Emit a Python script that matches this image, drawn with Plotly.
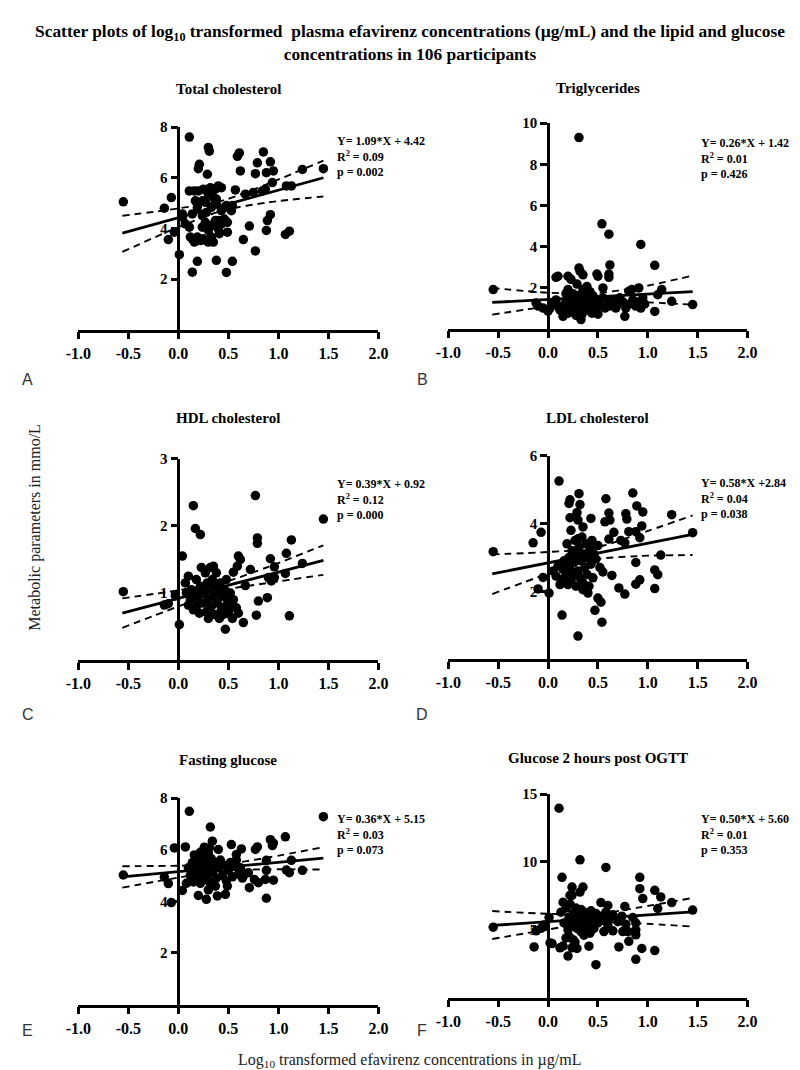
import plotly.graph_objects as go

W, H = 800, 1070

# ---------------- data ----------------
X_TICKS = [-1.0, -0.5, 0.0, 0.5, 1.0, 1.5, 2.0]
X_TICKTEXT = ["-1.0", "-0.5", "0.0", "0.5", "1.0", "1.5", "2.0"]

TITLES = ["Total cholesterol", "Triglycerides", "HDL cholesterol",
          "LDL cholesterol", "Fasting glucose", "Glucose 2 hours post OGTT"]
PANEL_LETTERS = ["A", "B", "C", "D", "E", "F"]
Y_MAX = [8, 10, 3, 6, 8, 15]
Y_TICKS = [[2, 4, 6, 8], [2, 4, 6, 8, 10], [1, 2, 3], [2, 4, 6], [2, 4, 6, 8], [5, 10, 15]]
SLOPES = [1.09, 0.26, 0.39, 0.58, 0.36, 0.50]
INTERCEPTS = [4.42, 1.42, 0.92, 2.84, 5.15, 5.60]
R2_TEXT = ["0.09", "0.01", "0.12", "0.04", "0.03", "0.01"]
P_TEXT = ["0.002", "0.426", "0.000", "0.038", "0.073", "0.353"]
EQ_TEXT = ["Y= 1.09*X + 4.42", "Y= 0.26*X + 1.42", "Y= 0.39*X + 0.92",
           "Y= 0.58*X +2.84", "Y= 0.36*X + 5.15", "Y= 0.50*X + 5.60"]

FIT_X = [-0.56, 1.45]
BAND_X = [-0.56, 0.0, 0.45, 0.9, 1.45]
BAND_UPPER = [
    [4.50, 4.79, 5.11, 5.77, 6.68],
    [1.98, 1.75, 1.72, 2.00, 2.58],
    [0.92, 1.04, 1.16, 1.39, 1.71],
    [3.09, 3.16, 3.27, 3.68, 4.24],
    [5.36, 5.38, 5.43, 5.70, 6.10],
    [6.38, 6.18, 6.13, 6.63, 7.35],
]
BAND_LOWER = [
    [3.07, 4.05, 4.71, 5.03, 5.26],
    [0.68, 1.09, 1.36, 1.30, 1.17],
    [0.48, 0.80, 1.04, 1.15, 1.27],
    [1.92, 2.52, 2.93, 3.04, 3.07],
    [4.53, 4.92, 5.19, 5.24, 5.23],
    [4.32, 5.02, 5.53, 5.47, 5.24],
]

TC_POINTS = [
    (-0.55, 5.05), (-0.07, 5.22), (-0.14, 4.80), (-0.10, 3.56), (-0.04, 3.85), (0.01, 2.96),
    (0.11, 7.61), (0.04, 4.57), (0.14, 2.27), (0.19, 2.70), (0.21, 6.53), (0.20, 6.36),
    (0.30, 7.20), (0.31, 7.05), (0.29, 6.14), (0.38, 2.74), (0.48, 2.26), (0.54, 2.70),
    (0.57, 5.52), (0.61, 6.98), (0.59, 6.85), (0.62, 6.27), (0.65, 3.56), (0.71, 4.09),
    (0.77, 3.11), (0.79, 6.59), (0.77, 6.16), (0.85, 7.02), (0.88, 6.20), (0.92, 6.63),
    (0.95, 6.27), (0.94, 5.81), (0.88, 3.92), (0.89, 4.31), (0.92, 4.54), (1.07, 3.76),
    (1.11, 3.89), (1.08, 5.68), (1.13, 5.68), (1.24, 6.33), (1.45, 6.36), (0.67, 5.35),
    (0.75, 5.42), (0.84, 5.48), (0.87, 5.55),
    (0.04, 4.44), (0.07, 4.18), (0.11, 4.05), (0.12, 3.66), (0.16, 3.46), (0.19, 3.66),
    (0.22, 3.52), (0.25, 3.59), (0.30, 3.46), (0.33, 3.66), (0.24, 4.05), (0.27, 4.24),
    (0.30, 3.92), (0.33, 4.11), (0.37, 4.31), (0.40, 3.98), (0.43, 4.18), (0.46, 4.37),
    (0.49, 4.24), (0.49, 3.85), (0.53, 4.70), (0.54, 4.90), (0.48, 4.90), (0.43, 4.70),
    (0.38, 4.96), (0.33, 4.83), (0.28, 4.63), (0.24, 4.50), (0.19, 4.83), (0.17, 5.09),
    (0.20, 5.48), (0.25, 5.55), (0.30, 5.35), (0.32, 5.61), (0.37, 5.55), (0.40, 5.68),
    (0.43, 5.61), (0.35, 5.22), (0.38, 5.16), (0.27, 5.03), (0.14, 4.57), (0.11, 5.48),
    (0.16, 5.48), (0.14, 3.59), (0.28, 3.52), (0.40, 4.31), (0.41, 3.79), (0.35, 3.46),
    (0.24, 5.09), (0.46, 4.83),
]

TG_POINTS = [
    (-0.55, 1.90), (0.31, 9.30), (0.54, 5.10), (0.61, 4.60), (0.93, 4.10), (1.07, 3.08),
    (0.62, 3.10), (0.61, 2.66), (0.61, 2.50), (0.49, 2.66), (0.50, 2.55), (0.31, 2.95),
    (0.32, 2.80), (0.35, 2.62), (0.10, 2.55), (0.08, 2.50), (0.20, 2.55), (0.23, 2.40),
    (0.39, 2.05), (0.29, 2.17), (0.55, 1.98), (0.91, 1.98), (0.81, 1.82), (0.84, 1.90),
    (1.14, 1.90), (1.10, 1.65), (1.24, 1.33), (1.45, 1.17), (1.07, 0.84), (0.77, 0.60),
    (0.33, 0.44), (0.15, 0.60),
    (-0.12, 1.25), (-0.10, 1.10), (-0.05, 1.00), (0.00, 0.85), (0.02, 1.00), (0.05, 1.20),
    (0.08, 1.40), (0.12, 0.90), (0.15, 1.10), (0.18, 1.30), (0.20, 0.75), (0.22, 1.00),
    (0.22, 1.50), (0.25, 1.20), (0.26, 0.80), (0.28, 1.40), (0.30, 1.00), (0.30, 1.60),
    (0.32, 1.25), (0.34, 0.70), (0.35, 1.10), (0.37, 1.50), (0.38, 0.90), (0.40, 1.30),
    (0.42, 1.00), (0.44, 0.75), (0.45, 1.60), (0.46, 1.20), (0.48, 0.85), (0.50, 1.40),
    (0.52, 1.10), (0.55, 1.50), (0.57, 1.00), (0.60, 1.30), (0.62, 1.10), (0.65, 1.40),
    (0.68, 1.00), (0.70, 1.20), (0.72, 1.50), (0.75, 1.30), (0.78, 1.00), (0.82, 1.20),
    (0.85, 1.40), (0.88, 1.10), (0.90, 1.30), (0.93, 1.00), (0.95, 1.50), (0.97, 1.20),
    (0.25, 1.70), (0.42, 1.80), (0.50, 0.70), (0.10, 1.10), (0.28, 0.65), (0.35, 1.90),
    (0.20, 1.90), (0.18, 1.70),
]

HDL_POINTS = [
    (-0.55, 1.02), (-0.14, 0.82), (-0.10, 0.84), (-0.03, 0.96), (0.01, 0.53), (0.04, 1.55),
    (0.15, 2.30), (0.17, 1.96), (0.22, 1.87), (0.77, 2.45), (0.79, 1.82), (0.79, 1.74),
    (1.45, 2.10), (1.13, 1.79), (1.08, 1.59), (1.24, 1.44), (0.92, 1.51), (0.96, 1.39),
    (1.07, 1.29), (0.90, 1.23), (0.93, 1.18), (0.96, 1.23), (0.89, 0.93), (0.80, 0.88),
    (0.78, 0.67), (1.11, 0.66), (0.65, 0.56), (0.47, 0.46), (0.60, 1.55), (0.62, 1.50),
    (0.59, 1.40), (0.72, 1.35), (0.67, 1.11), (0.55, 1.31), (0.60, 0.70), (0.54, 0.62),
    (0.07, 1.15), (0.10, 1.25), (0.12, 0.90), (0.13, 1.05), (0.15, 0.75), (0.18, 1.20),
    (0.20, 0.95), (0.21, 0.70), (0.22, 1.10), (0.23, 1.38), (0.25, 0.85), (0.26, 1.00),
    (0.27, 1.30), (0.28, 0.72), (0.29, 1.15), (0.30, 0.90), (0.31, 1.05), (0.32, 1.38),
    (0.33, 0.80), (0.34, 1.20), (0.35, 0.95), (0.36, 0.68), (0.37, 1.10), (0.38, 1.30),
    (0.39, 0.85), (0.40, 1.00), (0.41, 0.62), (0.42, 1.15), (0.43, 0.75), (0.44, 0.95),
    (0.46, 1.05), (0.47, 0.80), (0.48, 1.20), (0.49, 0.90), (0.50, 0.70), (0.52, 1.00),
    (0.53, 0.78), (0.24, 1.02), (0.19, 0.82), (0.16, 1.00), (0.10, 0.82), (0.08, 1.00),
    (0.45, 0.68), (0.35, 1.40), (0.30, 0.62), (0.55, 0.90), (0.58, 0.78),
]

LDL_POINTS = [
    (-0.55, 3.17), (-0.15, 3.43), (-0.07, 3.74), (-0.10, 2.07), (-0.05, 2.41), (0.01, 1.95),
    (0.11, 5.25), (0.14, 1.30), (0.30, 0.68), (0.54, 1.09), (0.47, 1.44), (0.53, 1.68),
    (0.50, 1.80), (0.40, 1.95), (0.31, 4.88), (0.22, 4.70), (0.21, 4.59), (0.32, 4.56),
    (0.29, 4.32), (0.30, 4.10), (0.22, 4.17), (0.23, 3.80), (0.35, 3.90), (0.43, 4.15),
    (0.58, 4.73), (0.61, 4.31), (0.62, 4.10), (0.57, 4.05), (0.66, 3.74), (0.61, 3.54),
    (0.73, 3.50), (0.77, 3.43), (0.78, 4.29), (0.79, 4.13), (0.81, 3.76), (0.85, 4.90),
    (0.89, 4.52), (0.95, 4.34), (0.94, 3.93), (0.92, 3.58), (0.88, 3.76), (1.24, 4.26),
    (1.45, 3.73), (1.13, 3.07), (0.88, 2.85), (1.07, 2.63), (1.10, 2.49), (1.07, 2.08),
    (0.92, 2.34), (0.88, 2.21), (0.71, 2.10), (0.77, 1.92), (0.64, 2.47), (0.55, 2.57),
    (0.05, 2.60), (0.08, 2.45), (0.10, 2.75), (0.12, 2.20), (0.14, 2.35), (0.16, 2.90),
    (0.18, 2.50), (0.19, 3.40), (0.20, 2.20), (0.21, 3.00), (0.22, 2.65), (0.23, 2.30),
    (0.24, 3.20), (0.25, 2.45), (0.26, 2.85), (0.27, 3.50), (0.28, 2.15), (0.29, 3.05),
    (0.30, 2.60), (0.31, 3.30), (0.32, 2.40), (0.33, 2.90), (0.34, 3.60), (0.35, 2.25),
    (0.36, 3.10), (0.37, 2.70), (0.38, 3.40), (0.39, 2.50), (0.40, 3.00), (0.41, 2.15),
    (0.42, 3.25), (0.43, 2.80), (0.44, 3.50), (0.45, 2.40), (0.46, 3.10), (0.48, 2.95),
    (0.50, 3.35), (0.52, 2.70), (0.30, 3.55), (0.20, 2.75), (0.15, 2.65), (0.35, 2.05),
]

FG_POINTS = [
    (-0.55, 5.02), (-0.14, 4.94), (-0.10, 4.69), (-0.07, 3.95), (-0.04, 6.07), (0.04, 4.42),
    (0.07, 6.11), (0.11, 7.49), (0.20, 4.23), (0.30, 4.44), (0.32, 6.88), (0.34, 6.33),
    (0.31, 6.07), (0.40, 6.01), (0.53, 6.20), (0.63, 6.03), (0.58, 5.81), (0.79, 6.11),
    (0.77, 6.01), (0.92, 6.39), (0.95, 6.26), (0.94, 6.16), (1.07, 6.50), (1.13, 5.59),
    (1.08, 5.21), (1.11, 5.11), (1.24, 5.20), (1.45, 7.28), (0.88, 5.59), (0.88, 5.20),
    (0.87, 4.85), (0.95, 4.82), (0.88, 4.12), (0.71, 4.53), (0.76, 4.85), (0.80, 4.72),
    (0.70, 5.11), (0.65, 4.98), (0.28, 4.08), (0.39, 4.21), (0.47, 4.27), (0.49, 4.59),
    (0.37, 4.59),
    (0.12, 5.00), (0.14, 5.50), (0.15, 4.75), (0.16, 5.80), (0.17, 5.20), (0.18, 4.90),
    (0.19, 5.60), (0.20, 5.35), (0.21, 5.00), (0.22, 5.90), (0.22, 4.70), (0.23, 5.45),
    (0.24, 5.15), (0.25, 5.70), (0.26, 4.85), (0.27, 5.30), (0.28, 5.55), (0.29, 5.05),
    (0.30, 5.85), (0.31, 4.75), (0.32, 5.40), (0.33, 5.65), (0.34, 5.10), (0.36, 5.50),
    (0.38, 4.90), (0.40, 5.30), (0.42, 5.60), (0.44, 5.00), (0.46, 5.40), (0.48, 4.80),
    (0.50, 5.20), (0.52, 5.50), (0.54, 4.95), (0.56, 5.35), (0.58, 5.60), (0.60, 5.05),
    (0.62, 5.30), (0.64, 4.90), (0.26, 6.10), (0.20, 5.10), (0.10, 5.30), (0.08, 4.70),
]

OGTT_POINTS = [
    (-0.55, 5.19), (-0.14, 3.74), (-0.12, 4.92), (-0.07, 5.11), (-0.04, 5.36), (0.02, 4.03),
    (0.04, 3.98), (0.11, 13.96), (0.14, 8.87), (0.20, 3.06), (0.32, 10.16), (0.48, 2.43),
    (0.58, 9.60), (0.88, 2.82), (0.94, 3.62), (1.07, 3.47), (0.71, 3.74), (0.81, 4.15),
    (0.41, 3.79), (0.92, 8.87), (0.92, 8.03), (0.95, 7.30), (1.07, 7.91), (1.13, 7.42),
    (1.10, 6.57), (1.24, 7.01), (1.45, 6.45), (0.77, 6.72), (0.53, 7.01), (0.60, 6.79),
    (0.24, 8.15), (0.24, 7.54), (0.35, 8.15), (0.32, 7.78), (0.15, 7.03), (0.22, 7.54),
    (0.12, 3.67), (0.15, 3.80), (0.24, 3.67), (0.29, 3.62), (0.21, 4.52), (0.25, 4.27),
    (0.33, 4.87), (0.42, 4.75), (0.65, 4.92), (0.75, 4.87), (0.88, 5.00), (0.88, 4.63),
    (0.80, 4.87), (0.56, 4.87),
    (0.13, 6.30), (0.16, 5.50), (0.18, 6.60), (0.20, 5.00), (0.21, 5.90), (0.22, 6.90),
    (0.23, 5.30), (0.25, 6.20), (0.26, 5.60), (0.28, 6.60), (0.29, 5.10), (0.30, 6.00),
    (0.32, 5.40), (0.33, 6.50), (0.35, 5.80), (0.36, 6.30), (0.38, 5.20), (0.40, 6.10),
    (0.41, 5.60), (0.43, 6.40), (0.45, 5.90), (0.46, 5.10), (0.48, 6.20), (0.50, 5.50),
    (0.52, 6.00), (0.55, 5.70), (0.58, 6.30), (0.60, 5.30), (0.62, 5.90), (0.65, 6.10),
    (0.70, 5.60), (0.74, 6.00), (0.78, 5.40), (0.85, 5.90), (0.88, 5.50), (0.18, 4.40),
    (0.27, 4.10), (0.36, 4.60), (0.01, 5.90),
]

PANEL_POINTS = [TC_POINTS, TG_POINTS, HDL_POINTS, LDL_POINTS, FG_POINTS, OGTT_POINTS]

# ---------------- layout geometry (pixels; top, bottom) ----------------
COL_X = [(59, 368), (440, 748)]
ROW_Y = [(112, 316), (108, 315), (446, 649), (443, 648), (788, 996), (784, 989)]
TITLE_Y = [74, 73, 405, 405, 750, 748]
EQ_POS = [(323, 117), (698, 119), (323, 462), (698, 461), (323, 800), (698, 800)]
LETTER_POS = [(7, 366), (413, 366), (7, 704), (413, 704), (7, 1022), (413, 1022)]

SERIF = "Liberation Serif, Times New Roman, serif"
SANS = "Liberation Sans, Arial, sans-serif"


def px(x):
    return x / W


def py(y):
    return 1 - y / H


fig = go.Figure()
layout = dict(
    width=W, height=H, margin=dict(l=0, r=0, t=0, b=0),
    paper_bgcolor="white", plot_bgcolor="white", showlegend=False,
    font=dict(family=SERIF, color="black"),
)
annotations = []

for i in range(6):
    k = "" if i == 0 else str(i + 1)
    col = COL_X[i % 2]
    x0, x1 = px(col[0]), px(col[1])
    ytop, ybot = ROW_Y[i]
    y0, y1 = py(ybot), py(ytop)
    pts = PANEL_POINTS[i]

    for band in (BAND_UPPER[i], BAND_LOWER[i]):
        fig.add_trace(go.Scatter(
            x=BAND_X, y=band, mode="lines",
            line=dict(color="black", width=1.9, dash="7px,5px", shape="spline", smoothing=0.8),
            xaxis="x" + k, yaxis="y" + k))
    fit_y = [SLOPES[i] * xv + INTERCEPTS[i] for xv in FIT_X]
    fig.add_trace(go.Scatter(
        x=FIT_X, y=fit_y, mode="lines", line=dict(color="black", width=2.8),
        xaxis="x" + k, yaxis="y" + k))
    fig.add_trace(go.Scatter(
        x=[p[0] for p in pts], y=[p[1] for p in pts], mode="markers",
        marker=dict(color="black", size=9.5, line=dict(width=0)),
        xaxis="x" + k, yaxis="y" + k, cliponaxis=False))

    layout["xaxis" + k] = dict(
        domain=[x0, x1], range=[-1, 2], anchor="y" + k,
        tickvals=X_TICKS, ticktext=X_TICKTEXT,
        showline=True, linecolor="black", linewidth=2.6,
        ticks="outside", ticklen=7, tickwidth=2.6, tickcolor="black",
        showgrid=False, zeroline=False,
        tickfont=dict(family=SERIF, size=16, color="black", weight="bold"))
    layout["yaxis" + k] = dict(
        domain=[y0, y1], range=[0, Y_MAX[i]], anchor="free",
        position=x0 + (x1 - x0) / 3.0,
        tickvals=Y_TICKS[i], ticktext=[str(v) for v in Y_TICKS[i]],
        showline=True, linecolor="black", linewidth=2.6,
        ticks="outside", ticklen=7, tickwidth=2.6, tickcolor="black",
        showgrid=False, zeroline=False,
        tickfont=dict(family=SERIF, size=15, color="black", weight="bold"))

    annotations.append(dict(
        text="<b>" + TITLES[i] + "</b>", x=(x0 + x1) / 2, y=py(TITLE_Y[i]),
        xref="paper", yref="paper", showarrow=False, xanchor="center", yanchor="middle",
        font=dict(family=SERIF, size=15, color="black")))
    ex, ey = EQ_POS[i]
    annotations.append(dict(
        text="<b>" + EQ_TEXT[i] + "<br>R<sup>2</sup> = " + R2_TEXT[i] + "<br>p = " + P_TEXT[i] + "</b>",
        x=px(ex), y=py(ey), xref="paper", yref="paper", showarrow=False,
        xanchor="left", yanchor="top", align="left",
        font=dict(family=SERIF, size=12, color="black")))
    lx, ly = LETTER_POS[i]
    annotations.append(dict(
        text=PANEL_LETTERS[i], x=px(lx), y=py(ly), xref="paper", yref="paper",
        showarrow=False, xanchor="center", yanchor="middle",
        font=dict(family=SANS, size=16, color="#333333")))

annotations.append(dict(
    text="<b>Scatter plots of log<sub>10</sub> transformed  plasma efavirenz concentrations (µg/mL) and the lipid and glucose"
         "<br>concentrations in 106 participants</b>",
    x=0.5, y=py(3), xref="paper", yref="paper", showarrow=False,
    xanchor="center", yanchor="top", align="center",
    font=dict(family=SERIF, size=17.4, color="black")))
annotations.append(dict(
    text="Metabolic parameters in mmo/L", x=px(15), y=py(515), xref="paper", yref="paper",
    showarrow=False, textangle=-90, xanchor="center", yanchor="middle",
    font=dict(family=SERIF, size=16, color="#222222")))
annotations.append(dict(
    text="Log<sub>10</sub> transformed efavirenz concentrations in µg/mL", x=0.5, y=py(1052),
    xref="paper", yref="paper", showarrow=False, xanchor="center", yanchor="middle",
    font=dict(family=SERIF, size=16, color="#222222")))

layout["annotations"] = annotations
fig.update_layout(**layout)
fig.write_html("out.html")
